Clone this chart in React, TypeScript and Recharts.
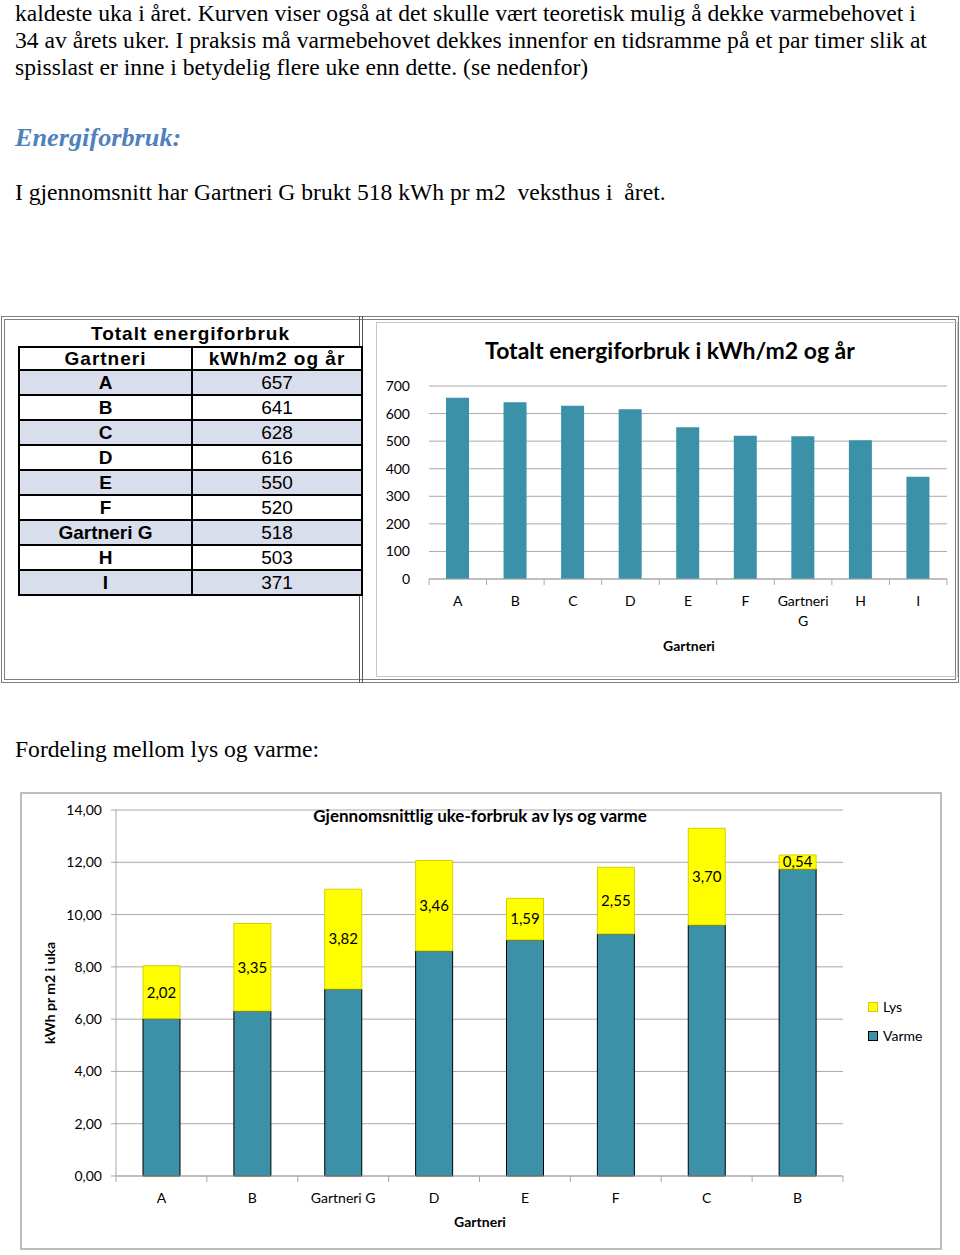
import React from 'react'
import { BarChart, Bar, XAxis, YAxis, CartesianGrid, LabelList, Legend } from 'recharts'

// Totalt energiforbruk (kWh/m2 og år)
const gartnerier = ['A', 'B', 'C', 'D', 'E', 'F', 'Gartneri G', 'H', 'I']
const totalForbruk = [657, 641, 628, 616, 550, 520, 518, 503, 371]
const totalTicks = [0, 100, 200, 300, 400, 500, 600, 700]

// Gjennomsnittlig uke-forbruk av lys og varme (kWh pr m2 i uka)
const ukeGartnerier = ['A', 'B', 'Gartneri G', 'D', 'E', 'F', 'C', 'B']
const varme = [6.02, 6.31, 7.15, 8.61, 9.03, 9.26, 9.6, 11.74]
const lys = [2.02, 3.35, 3.82, 3.46, 1.59, 2.55, 3.7, 0.54]
const ukeTicks = [0, 2, 4, 6, 8, 10, 12, 14]

const TEAL = '#3a91a8'
const YELLOW = '#ffff00'
const GRID = '#a9a9a9'
const CHART_FONT = 'Lato, "Open Sans", sans-serif'
const SERIF = '"Liberation Serif", "Times New Roman", serif'
const TABLE_FONT = '"Liberation Sans", Arial, sans-serif'

const totalData = gartnerier.map((name, i) => ({ name, total: totalForbruk[i] }))
const ukeData = ukeGartnerier.map((name, i) => ({ name, varme: varme[i], lys: lys[i] }))

const komma = (v: number) => v.toFixed(2).replace('.', ',')

const TEXT_SCALE = 0.983

const Line = ({ top, children, style, scale = TEXT_SCALE }: any) => (
  <div
    style={{
      position: 'absolute',
      left: 15,
      top,
      whiteSpace: 'nowrap',
      fontFamily: SERIF,
      fontSize: 24,
      lineHeight: '27px',
      color: '#000',
      transform: `scaleX(${scale})`,
      transformOrigin: 'left center',
      ...style,
    }}
  >
    {children}
  </div>
)

// Excel-style ticks between categories, labels may wrap on space
const makeTick = (band: number, axisOffset: number, wrap: boolean) => (props: any) => {
  const { x, y, payload, index, visibleTicksCount } = props
  const axisY = y - axisOffset
  const words = String(payload.value).split(' ')
  return (
    <g>
      <line x1={x - band / 2} x2={x - band / 2} y1={axisY} y2={axisY + 6} stroke={GRID} />
      {index === visibleTicksCount - 1 && (
        <line x1={x + band / 2} x2={x + band / 2} y1={axisY} y2={axisY + 6} stroke={GRID} />
      )}
      <text x={x} y={axisY + 27} textAnchor="middle" fontSize={14} fontFamily={CHART_FONT} fill="#000">
        {wrap && words.length > 1
          ? words.map((w, i) => (
              <tspan key={i} x={x} dy={i ? 20 : 0}>
                {w}
              </tspan>
            ))
          : payload.value}
      </text>
    </g>
  )
}

const UkeLegend = ({ payload }: any) => (
  <div style={{ paddingLeft: 25, fontFamily: CHART_FONT, fontSize: 14 }}>
    {(payload || []).map((entry: any, i: number) => (
      <div key={i} style={{ height: 29, display: 'flex', alignItems: 'center', gap: 5 }}>
        <span
          style={{
            width: 8,
            height: 8,
            background: entry.color,
            border: `1px solid ${entry.value === 'Varme' ? '#000' : '#d6cf00'}`,
          }}
        />
        <span>{entry.value}</span>
      </div>
    ))}
  </div>
)

const TotalTable = () => (
  <div style={{ position: 'absolute', left: 18, top: 321, width: 345, fontFamily: TABLE_FONT, fontSize: 19 }}>
    <div style={{ height: 25, textAlign: 'center', fontWeight: 'bold', lineHeight: '25px', letterSpacing: 1 }}>
      Totalt energiforbruk
    </div>
    <div
      style={{
        display: 'flex',
        height: 25,
        border: '2px solid #000',
        boxSizing: 'border-box',
        fontWeight: 'bold',
        lineHeight: '21px',
        letterSpacing: 1,
        background: '#fff',
      }}
    >
      <div style={{ width: 171, textAlign: 'center', borderRight: '2px solid #000' }}>Gartneri</div>
      <div style={{ flex: 1, textAlign: 'center' }}>kWh/m2 og år</div>
    </div>
    {gartnerier.map((g, i) => (
      <div
        key={i}
        style={{
          display: 'flex',
          height: 25,
          borderLeft: '2px solid #000',
          borderRight: '2px solid #000',
          borderBottom: '2px solid #000',
          boxSizing: 'border-box',
          lineHeight: '23px',
          background: i % 2 === 0 ? '#d9deec' : '#fff',
        }}
      >
        <div style={{ width: 171, textAlign: 'center', borderRight: '2px solid #000', fontWeight: 'bold' }}>{g}</div>
        <div style={{ flex: 1, textAlign: 'center' }}>{totalForbruk[i]}</div>
      </div>
    ))}
  </div>
)

export default function App() {
  return (
    <div
      style={{
        position: 'absolute',
        left: 0,
        top: 0,
        width: 960,
        height: 1255,
        background: '#fff',
        overflow: 'hidden',
      }}
    >
      <Line top={0}>kaldeste uka i året. Kurven viser også at det skulle vært teoretisk mulig å dekke varmebehovet i</Line>
      <Line top={27}>34 av årets uker. I praksis må varmebehovet dekkes innenfor en tidsramme på et par timer slik at</Line>
      <Line top={54}>spisslast er inne i betydelig flere uke enn dette. (se nedenfor)</Line>
      <Line
        top={124}
        scale={1.05}
        style={{ color: '#4f81bd', fontWeight: 'bold', fontStyle: 'italic', fontSize: 25 }}
      >
        Energiforbruk:
      </Line>
      <Line top={179}>I gjennomsnitt har Gartneri G brukt 518 kWh pr m2&nbsp; veksthus i&nbsp; året.</Line>

      {/* table + total chart frame */}
      <div
        style={{
          position: 'absolute',
          left: 1,
          top: 316,
          width: 958,
          height: 367,
          border: '4px double #7f7f7f',
          boxSizing: 'border-box',
        }}
      />
      <div style={{ position: 'absolute', left: 359, top: 316, width: 4, height: 367, borderLeft: '4px double #555' }} />
      <TotalTable />

      <div
        style={{
          position: 'absolute',
          left: 376,
          top: 322,
          width: 582,
          height: 355,
          border: '1px solid #c8c8c8',
          boxSizing: 'border-box',
        }}
      />
      <div
        style={{
          position: 'absolute',
          left: 376,
          top: 334,
          width: 588,
          textAlign: 'center',
          fontFamily: CHART_FONT,
          fontWeight: 'bold',
          fontSize: 23,
          lineHeight: '32px',
        }}
      >
        Totalt energiforbruk i kWh/m2 og år
      </div>
      <div style={{ position: 'absolute', left: 376, top: 322 }}>
        <BarChart width={582} height={355} data={totalData} margin={{ top: 64, right: 11, left: 0, bottom: 58 }}>
          <CartesianGrid vertical={false} stroke={GRID} />
          <XAxis
            dataKey="name"
            height={40}
            stroke={GRID}
            tickLine={false}
            interval={0}
            tick={makeTick(518 / 9, 8, true)}
          />
          <YAxis
            domain={[0, 700]}
            ticks={totalTicks}
            width={53}
            axisLine={false}
            tickLine={false}
            tickMargin={13}
            tick={{ fontSize: 14, fontFamily: CHART_FONT, fill: '#000' }}
          />
          <Bar dataKey="total" fill={TEAL} barSize={23} isAnimationActive={false} />
        </BarChart>
      </div>
      <div
        style={{
          position: 'absolute',
          left: 589,
          top: 636,
          width: 200,
          textAlign: 'center',
          fontFamily: CHART_FONT,
          fontWeight: 'bold',
          fontSize: 14,
          lineHeight: '20px',
        }}
      >
        Gartneri
      </div>

      <Line top={736}>Fordeling mellom lys og varme:</Line>

      {/* lys og varme chart */}
      <div
        style={{
          position: 'absolute',
          left: 20,
          top: 792,
          width: 922,
          height: 458,
          border: '2px solid #bdbdbd',
          boxSizing: 'border-box',
        }}
      />
      <div style={{ position: 'absolute', left: 20, top: 792 }}>
        <BarChart width={922} height={458} data={ukeData} margin={{ top: 18, right: 19, left: 0, bottom: 34 }}>
          <CartesianGrid vertical={false} stroke={GRID} />
          <XAxis
            dataKey="name"
            height={40}
            stroke={GRID}
            tickLine={false}
            interval={0}
            tick={makeTick(727 / 8, 8, false)}
          />
          <YAxis
            domain={[0, 14]}
            ticks={ukeTicks}
            width={96}
            stroke={GRID}
            tickSize={5}
            tickMargin={9}
            tickFormatter={komma}
            tick={{ fontSize: 14, fontFamily: CHART_FONT, fill: '#000' }}
            label={{
              value: 'kWh pr m2 i uka',
              angle: -90,
              position: 'insideLeft',
              offset: 30,
              style: { textAnchor: 'middle', fontWeight: 'bold', fontSize: 14, fontFamily: CHART_FONT, fill: '#000' },
            }}
          />
          <Legend
            layout="vertical"
            align="right"
            verticalAlign="middle"
            wrapperStyle={{ width: 80 }}
            content={<UkeLegend />}
          />
          <Bar dataKey="varme" name="Varme" stackId="a" fill={TEAL} stroke="#000" barSize={37} isAnimationActive={false} />
          <Bar dataKey="lys" name="Lys" stackId="a" fill={YELLOW} stroke="#d6cf00" barSize={37} isAnimationActive={false}>
            <LabelList
              dataKey="lys"
              position="center"
              formatter={(v: any) => komma(Number(v))}
              fill="#000"
              fontSize={15}
              fontFamily={CHART_FONT}
            />
          </Bar>
        </BarChart>
      </div>
      <div
        style={{
          position: 'absolute',
          left: 200,
          top: 802,
          width: 560,
          textAlign: 'center',
          fontFamily: CHART_FONT,
          fontWeight: 'bold',
          fontSize: 17,
          lineHeight: '28px',
        }}
      >
        Gjennomsnittlig uke-forbruk av lys og varme
      </div>
      <div
        style={{
          position: 'absolute',
          left: 380,
          top: 1212,
          width: 200,
          textAlign: 'center',
          fontFamily: CHART_FONT,
          fontWeight: 'bold',
          fontSize: 14,
          lineHeight: '20px',
        }}
      >
        Gartneri
      </div>
    </div>
  )
}
